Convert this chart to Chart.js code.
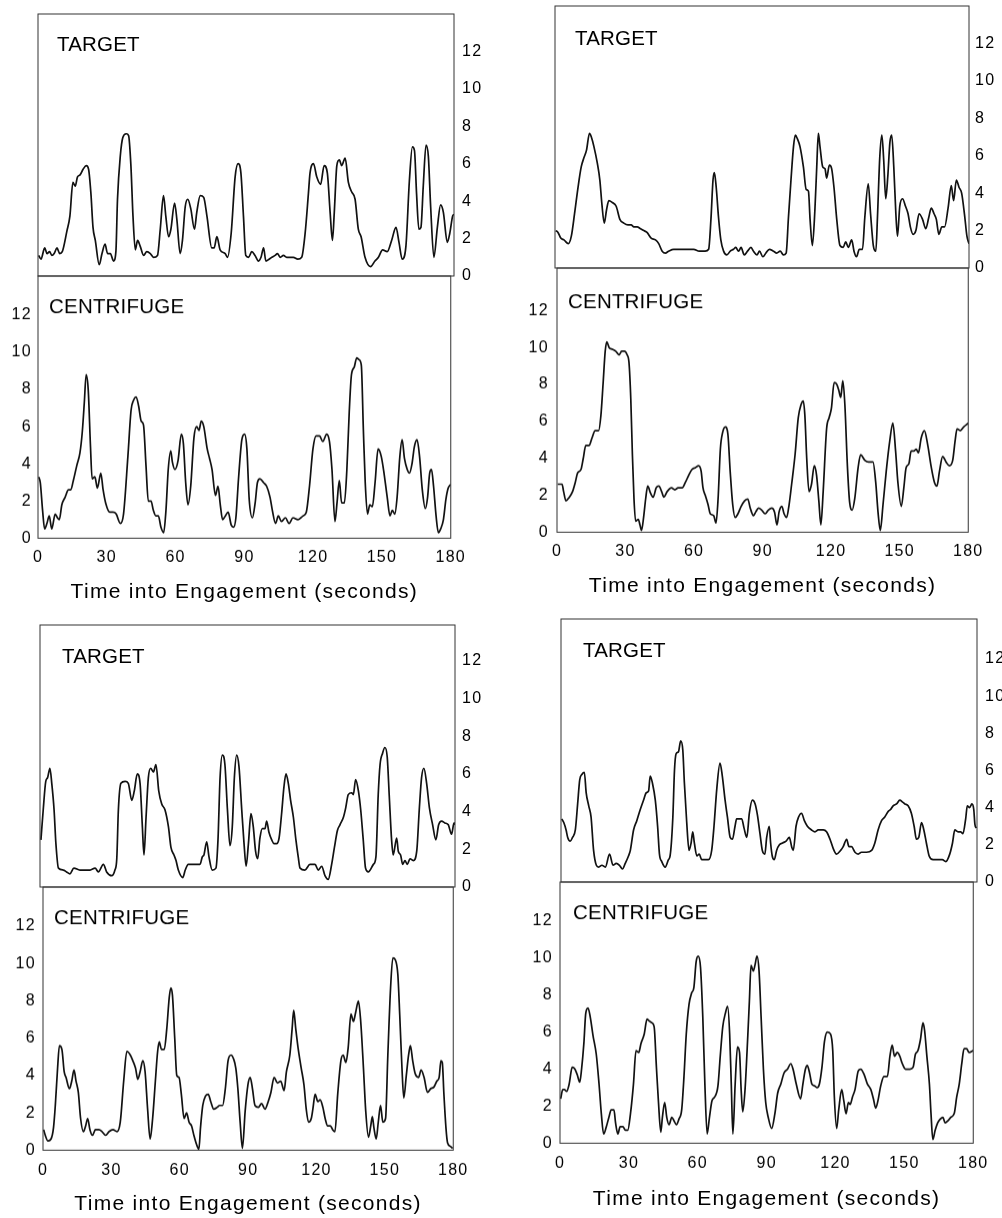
<!DOCTYPE html>
<html>
<head>
<meta charset="utf-8">
<script src="https://cdn.jsdelivr.net/npm/chart.js@4.4.1/dist/chart.umd.min.js"></script>
<style>
  html, body { margin: 0; padding: 0; background: #fff; }
  #page { position: relative; width: 1002px; height: 1218px; overflow: hidden; background: #fff; }
  .box { position: absolute; }
</style>
</head>
<body>
<div id="page"></div>
<script>
// tick labels
const xTicks = [0, 30, 60, 90, 120, 150, 180];
const yTicks = [0, 2, 4, 6, 8, 10, 12];
const xTitle = 'Time into Engagement (seconds)';

// panel 1 (top left)
const p1TargetT = [0.3,1.3,2.9,3.9,5,6,7,8.2,9.4,10.5,12.5,13.8,15.1,16.1,17.1,18.2,19.5,20.9,21.9,22.9,23.8,24.8,26.5,27.7,29,30.1,31.3,32.7,33.7,34.4,35.6,36.7,38.2,39.2,40.2,41.1,42.1,43.1,44.2,45.7,47.1,48.6,50,51.7,52.9,54.3,55.3,56.5,57.5,59.1,60.1,61.5,62.5,63.7,64.8,66.1,67.7,68.7,70.2,71.7,73.1,75.2,76.2,77.4,78.8,81,82,83.6,85.3,86.6,87.8,88.9,89.9,91.1,92.5,93.9,95.4,96.5,97.6,98.6,100,101.2,102.6,103.6,104.8,106.2,107.6,109.1,110.5,112.4,114.1,115.6,117,117.7,119.2,120.6,122.3,123.8,125.2,126.4,127.4,128.2,129.3,130.4,131.4,132.9,134.3,135.7,137.2,138.6,139.8,141.5,143.9,145.8,147.3,149.1,151.1,153,154.9,156.2,157.6,159.2,160.7,162,162.9,163.8,164.8,165.7,166.7,167.9,168.9,169.9,171.3,172.8,174.2,175.4,177.1,178.2,179.4,180];
const p1TargetV = [1.1,0.9,1.5,1.2,1.3,1.1,1.2,1.5,1.2,1.3,2.4,3.2,5.0,4.8,5.3,5.4,5.7,5.9,5.7,4.4,2.6,1.9,0.6,1.2,1.7,1.2,1.2,0.8,1.3,4.1,6.4,7.4,7.6,7.5,5.9,3.2,1.4,1.9,1.6,1.1,1.3,1.2,1.0,1.1,2.5,4.3,3.2,2.1,2.5,3.9,3.0,1.2,1.9,3.7,4.1,3.6,2.5,3.4,4.3,4.2,3.2,1.5,1.5,2.1,1.4,1.2,1.0,2.3,5.3,6.0,5.5,3.2,1.1,1.0,1.3,1.1,0.8,1.0,1.5,0.8,0.9,1.0,1.1,1.2,1.0,1.1,1.0,1.0,1.0,0.9,1.0,2.3,4.4,5.5,6.0,5.3,4.9,5.9,5.5,3.4,1.9,3.4,5.9,6.2,5.9,6.3,5.0,4.5,4.1,2.5,2.1,1.0,0.5,0.8,1.0,1.4,1.3,1.9,2.6,1.8,0.9,1.6,5.1,6.9,6.7,4.4,2.5,2.6,4.8,7.0,6.4,3.7,1.0,2.6,3.8,3.4,1.8,2.3,3.2,3.3];
const p1CentT = [0.3,1,2,2.9,3.9,4.9,6,7.5,8.5,9.3,10.4,11.8,13.3,14.3,15.4,16.9,18.3,19.3,20.2,21,21.9,22.9,23.6,24.8,25.9,27.4,28.4,29.5,31.3,32.7,34.1,35.9,37.3,39.2,40.6,41.6,42.8,43.9,45,46,47.1,48.1,49.3,50.3,51.4,52.5,53.6,54.8,55.8,56.8,57.9,58.6,59.7,61.1,62.5,63.4,64.4,65.4,66.6,68,69.2,70.2,71.2,72.3,73.8,74.8,75.9,77.4,78.5,79.5,80.5,81.7,82.9,84.3,85.3,86.3,87.5,88.9,90.1,91.1,92.1,93.5,94.7,95.7,96.8,98.3,99.7,101.2,102.2,103.6,104.8,106.2,107.9,109.5,111.2,113.4,115.6,117,118.4,119.9,121.3,122.8,124.2,125.9,127.1,128.2,129.5,130.4,131.4,132.4,133.6,134.7,135.7,136.7,137.9,139,140,141,141.9,142.7,143.7,144.7,145.8,147,148.3,149.7,150.9,152.3,153.5,154.5,155.6,156.6,157.8,158.8,159.8,161,162,163.1,164.1,165.3,166.4,167.6,168.9,169.9,170.8,171.6,172.5,173.6,174.6,175.6,176.8,177.9,178.9,180];
const p1CentV = [3.3,3.0,1.5,0.5,0.8,1.2,0.5,1.3,1.1,1.0,1.8,2.2,2.6,2.6,3.1,3.9,4.6,5.7,7.3,8.8,8.0,4.9,3.2,3.3,2.7,3.5,2.6,1.9,1.4,1.4,1.3,0.8,1.3,4.4,6.9,7.4,7.6,7.1,6.3,6.1,3.9,2.0,2.0,1.5,1.2,1.2,0.6,0.3,1.5,3.7,4.7,4.1,3.7,4.2,5.6,5.1,3.0,1.8,2.8,5.4,6.0,5.8,6.3,6.0,4.8,4.3,3.7,2.3,2.8,1.8,1.0,1.2,1.4,0.7,0.6,1.1,3.3,5.3,5.6,4.8,2.1,1.1,1.9,3.0,3.2,3.0,2.8,2.2,1.5,0.8,1.2,0.9,1.1,0.8,1.1,1.0,1.2,1.4,2.8,4.8,5.5,5.5,5.2,5.6,5.2,3.7,0.9,1.9,3.1,1.9,1.9,3.7,6.7,8.8,9.2,9.7,9.6,9.3,5.8,3.0,1.3,1.8,1.7,3.0,4.8,4.4,3.5,2.2,1.2,1.5,1.3,2.2,4.4,5.3,4.3,3.7,3.5,4.0,4.9,5.3,4.4,2.6,1.6,2.2,3.5,3.7,2.8,1.2,0.3,0.5,1.0,2.1,2.7,2.9];

// panel 2 (top right)
const p2TargetT = [0.3,1.3,2.5,3.9,5.8,7.1,8.5,10,11.4,12.6,13.7,15,15.8,16.9,18.4,19.5,20.4,21.4,22.4,23.4,24.9,26.6,28.2,29.9,31.7,33.1,34.3,35.7,37.2,38.6,40,41.8,43.7,45.1,46.6,48,49.4,51.6,54.5,57.4,60.3,62.7,64.2,65.3,66.8,67.8,68.7,69.3,70.1,71.1,72.1,73.3,74.7,76.2,77.6,78.6,79.8,80.9,82.3,83.7,85.2,86.3,87.8,88.9,90.4,91.7,93.2,95,96.4,97.9,99.3,100.5,101.5,102.6,103.7,104.5,105.4,106.5,108,109.2,110.2,110.9,111.9,113,113.8,114.5,115.2,116.4,117.4,118.1,119.3,120.3,121.3,122.5,123.9,125.3,126.4,127.5,129,130,131.1,132.3,133.7,134.7,136.2,137.2,138.4,139.5,140.2,141.2,142.1,142.9,143.8,144.7,145.6,146.4,147.3,148.2,148.9,149.9,151.1,152.4,153.5,154.5,155.7,156.9,158.3,159.8,161.2,162.5,163.6,164.8,165.8,166.9,168.2,169.4,170.9,172.3,173.3,174.5,175.7,176.8,178.1,179.1,180];
const p2TargetV = [2.0,1.9,1.6,1.5,1.3,1.7,2.9,4.3,5.4,5.9,6.3,7.2,7.0,6.5,5.6,4.7,3.4,2.4,3.1,3.6,3.5,3.3,2.6,2.4,2.3,2.3,2.2,2.2,2.1,2.0,1.9,1.6,1.5,1.3,0.9,0.8,0.9,1.0,1.0,1.0,1.0,0.9,0.9,0.9,1.0,2.6,4.7,5.1,4.3,2.7,1.5,0.9,0.7,0.9,1.0,1.1,0.9,1.1,0.7,0.9,1.1,0.9,0.7,0.9,0.6,0.8,1.0,0.9,0.8,0.9,0.7,0.8,2.7,4.7,6.5,7.1,6.9,6.5,5.4,4.2,4.1,2.6,1.2,3.1,5.4,7.2,6.5,5.4,5.3,4.8,5.5,5.3,4.3,2.6,1.2,1.1,1.4,1.1,1.5,0.9,0.6,1.0,1.0,2.7,4.5,2.9,1.2,0.9,2.7,5.9,7.1,5.8,3.7,4.9,6.7,7.1,5.4,2.9,1.7,3.3,3.7,3.3,2.9,2.2,1.8,2.0,2.9,2.6,2.1,2.7,3.2,2.9,2.6,1.8,2.2,2.2,3.2,4.4,3.6,4.7,4.3,4.0,2.8,1.7,1.3];
const p2CentT = [0.3,2.2,2.9,3.9,5.4,6.8,8,9,10.5,11.5,12.6,14.1,15.3,16.7,18.2,19.2,20.2,21.1,21.8,22.8,24.3,25.7,27.2,28.3,29.5,30.7,31.5,32.3,33,33.7,34.4,35.6,36.3,37,37.9,38.8,39.7,41,42.1,43.4,44.6,45.8,46.8,48.2,50.1,51.6,53,54.8,56.2,57.7,59.1,60.6,62,63.1,63.9,64.9,66.1,67.1,68.6,69.6,70.5,71.5,72.5,73.7,74.8,75.8,76.9,78,79.2,80.6,82.1,83.5,84.6,86,87,88.2,89.6,91.1,92.5,94,95.2,96.3,97.2,98.4,99.4,100.5,101.6,102.7,104.2,105.6,106.8,107.8,108.5,109.3,110.3,111.4,112.6,113.6,114.6,115.5,116.5,118,119.1,120.1,121.3,122.5,123.3,124.2,125.1,126,127.1,128.1,129.2,130.3,131.8,132.9,134.7,136.4,138.3,139.5,140.5,141.5,142.7,144.1,145.6,147,148.2,149.2,150.7,151.8,152.8,154,155,156.2,157.2,158.2,159.4,160.8,162.3,163.7,165.2,166.3,167.4,168.8,170.3,171.7,173.2,174.2,175.1,176.5,178,180];
const p2CentV = [2.6,2.6,2.2,1.7,1.9,2.2,2.7,3.2,3.4,4.0,4.7,4.7,5.1,5.5,5.5,6.3,8.1,9.8,10.3,10.0,9.9,9.8,9.6,9.8,9.8,9.6,9.2,7.2,4.2,1.8,0.6,0.7,0.4,0.1,0.8,1.8,2.5,2.1,1.9,2.4,2.5,2.2,1.9,2.2,2.4,2.3,2.4,2.4,2.7,3.1,3.4,3.5,3.6,3.3,2.4,2.0,1.5,1.0,0.9,0.5,1.8,4.5,5.4,5.7,5.3,3.3,1.5,0.8,1.0,1.4,1.7,1.8,1.3,0.9,1.1,1.3,1.2,1.0,1.2,1.3,1.1,0.4,1.1,1.4,1.0,0.8,1.5,2.6,4.2,6.2,6.9,7.1,6.3,4.0,2.2,2.6,3.6,3.1,1.7,0.4,2.2,5.6,6.2,6.7,8.1,8.0,7.7,7.3,8.2,6.9,3.6,1.6,1.2,1.8,3.5,4.2,3.9,3.8,3.8,2.7,1.1,0.1,1.5,3.3,4.9,5.9,4.4,2.7,1.4,2.4,3.5,3.7,4.4,4.4,4.5,4.3,5.1,5.5,4.7,3.6,2.7,2.5,3.3,4.1,3.8,3.6,3.9,4.9,5.6,5.5,5.7,5.9];

// panel 3 (bottom left)
const p3TargetT = [0.4,1.4,2.5,3.3,4.3,5.1,6.1,6.9,8,10.1,11.5,13,14.7,17.3,19.5,21.7,23.9,25.3,27.5,28.9,31.1,32.5,33.3,34,35.1,36.9,38.3,39.8,40.9,42.2,43.4,44.4,45.1,46,47,48,49.2,50.3,51.5,52.8,54.2,55.7,56.8,58.1,59,60,61.9,63,64.3,66.5,68,69.4,70.4,71.1,72.3,73.3,74.7,76.3,77.2,78.1,79.1,80.2,81.3,82.4,83.4,84.3,85.3,86.3,87.5,88.5,89.4,90.4,91.5,92.5,93.5,94.4,95.4,96.4,97.6,98.3,99.3,100.5,101.5,102.6,103.7,104.8,105.8,106.7,107.7,108.7,109.9,111,112,112.8,114.9,117.1,119.3,120.7,122.2,123.6,125,126.5,127.7,129,130.1,131.6,132.6,133.7,135.2,135.9,136.9,138.1,139.1,140.2,141.2,142.4,144.6,145.7,146.7,147.5,148.6,149.6,150.6,151.5,152.5,153.2,154.7,155.4,156.4,157.3,158.3,159.3,160.5,161.9,163.4,164.5,165.5,166.5,167.7,168.9,170.3,171.7,172.9,174.2,175.6,177.1,178.5,179.6,180];
const p3TargetV = [2.5,4.1,5.6,5.8,6.3,5.5,4.1,2.3,1.0,0.9,0.8,0.7,1.0,0.9,0.9,0.9,1.0,0.8,1.2,0.8,0.6,0.9,1.5,4.1,5.5,5.6,5.5,4.6,5.1,6.0,5.5,3.2,1.7,3.7,5.8,6.3,6.1,6.5,5.1,4.4,4.1,3.2,2.1,1.7,1.4,0.9,0.5,0.9,1.2,1.2,1.2,1.2,1.6,1.7,2.4,1.6,0.9,1.0,2.5,5.8,7.0,6.5,4.1,2.2,3.2,5.8,7.0,6.4,4.1,2.3,1.1,2.3,3.9,3.2,1.9,1.5,2.6,3.1,3.1,3.5,2.9,2.5,2.3,2.3,2.6,3.9,5.3,6.0,5.5,4.6,3.7,2.5,1.6,1.0,0.9,1.2,1.2,0.9,1.1,0.6,0.4,1.2,2.1,3.0,3.3,3.7,4.2,4.9,5.0,4.9,5.7,5.1,4.1,2.5,1.0,0.8,1.2,1.6,4.9,6.5,7.1,7.4,6.9,4.8,2.5,1.7,2.6,1.9,1.7,1.2,1.4,1.2,1.5,1.4,1.9,4.1,5.8,6.3,5.5,4.2,3.3,2.5,3.3,3.5,3.4,3.3,2.8,3.4,3.3];
const p3CentT = [0.3,1,2.2,3.5,4.6,5.4,6.4,7.2,8.3,9.3,10.1,11.6,12.6,13.6,14.5,15.5,16.5,17.7,18.7,19.6,20.6,21.7,23,24.5,25.9,27.5,29,30.7,32.5,33.9,35.4,36.8,38.3,39.4,40.6,41.6,42.6,43.8,44.8,45.9,47,48.1,49.3,50.3,51,52,53.2,54.3,55.4,56.1,56.8,57.8,58.7,59.7,60.7,61.9,63,64.1,65.2,66.2,67.4,68.4,69.1,70.1,71.3,72.5,73.6,74.9,76.4,77.5,78.8,80,81.2,82.5,83.6,84.6,85.5,86.5,87.5,88.7,89.9,90.9,91.9,93,94.5,95.9,97.4,98.8,100,101.4,102.9,104.3,105.8,106.8,108.3,109.3,110,110.9,111.9,113.3,114.5,115.5,116.5,117.7,118.4,119.4,120.6,121.6,122.8,123.8,124.9,126.1,127.1,128.1,129.3,130.7,131.7,132.9,133.9,135.1,136.2,137.2,138.4,139.4,140.6,141.6,142.8,143.8,144.5,145.2,146.2,147.1,148.1,149.1,150.3,151.3,152.5,153.5,154.6,155.7,156.5,157.5,158.3,159.4,160.4,161.2,162.2,163.3,164.8,165.9,167.2,168.7,170.1,171.6,172.8,173.8,174.6,175.2,175.9,176.8,177.5,178.8,179.7];
const p3CentV = [1.1,0.8,0.5,0.6,1.2,2.4,4.4,5.6,5.4,4.2,3.9,3.3,3.7,4.3,3.7,3.1,1.7,1.0,1.3,1.7,1.1,0.8,1.1,1.1,1.0,0.8,1.0,1.1,1.0,1.5,3.7,5.3,5.1,4.8,4.4,3.8,4.2,4.8,4.2,2.2,0.6,1.7,3.7,5.3,5.8,5.4,5.4,6.5,8.2,8.7,8.3,6.0,4.0,3.9,3.0,1.7,2.0,1.5,1.3,0.8,0.3,0.05,1.2,2.4,2.9,3.0,2.6,2.2,2.3,2.4,2.4,3.3,4.8,5.1,4.9,4.4,3.3,1.5,0.1,2.1,3.5,3.9,3.3,2.4,2.3,2.5,2.2,2.6,3.1,3.9,3.6,3.7,3.2,4.2,5.1,6.5,7.5,6.5,5.5,4.4,3.5,2.2,1.5,1.7,2.2,3.0,2.6,2.7,2.3,1.7,1.3,1.3,1.1,1.0,3.0,4.8,5.1,4.7,5.5,7.3,6.9,7.4,8.0,6.9,4.4,2.1,0.7,1.3,1.8,1.2,0.6,1.5,2.4,1.5,1.7,5.1,8.7,10.3,10.2,9.4,7.3,4.4,2.8,4.0,5.1,5.6,4.8,4.1,3.9,4.3,3.9,3.1,3.3,3.4,3.7,3.9,4.8,4.7,3.0,1.2,0.4,0.2,0.1];

// panel 4 (bottom right)
const p4TargetT = [0.3,1.2,2.2,2.9,4,5,6.2,7.2,8.1,9.1,10.1,10.9,12,13,14.1,15.3,16.3,17.7,19.2,21,22.5,23.9,25.3,26.6,27.8,29.2,30,31.4,32.8,34.3,35.7,36.9,37.9,38.6,39.6,40.8,41.8,42.6,43.6,45.1,46.5,47.2,48.4,49.1,49.8,50.8,51.8,52.7,53.4,54.4,55.4,56.3,57,57.7,58.8,59.8,60.9,62.4,63.8,65.2,66.2,67.4,68.8,69.8,71,72,73.2,74.2,75.3,76,77.2,78.2,79.2,80.4,81.5,82.8,84,85,86.1,87.1,88.2,89,90.1,90.7,91.4,92.3,93.3,94.5,95.9,97.4,98.8,99.8,100.5,101.7,102.8,104.1,105.3,106.6,108.4,109.9,111.3,113.5,114.9,116.4,117.8,119.2,121,122.1,123.6,124.6,125.7,127.2,128.6,130,132.2,134.4,135.8,137.2,138.7,140.1,141.6,142.6,143.7,145.2,146.6,147.8,148.8,150.2,151.6,152.8,153.8,154.8,156,157,158.1,159.3,161,163.2,165,166.5,168.2,169.4,170.4,171.8,172.9,173.9,175.1,175.8,176.8,177.8,178.6,179.1,179.7];
const p4TargetV = [3.4,3.2,2.8,2.4,2.2,2.4,2.8,4.2,5.5,5.8,5.9,4.8,4.1,3.5,1.7,0.9,0.8,0.9,0.8,1.5,0.9,1.0,0.9,0.7,1.0,1.4,1.7,2.8,3.3,3.9,4.4,4.8,4.9,5.7,5.3,4.4,3.0,1.5,1.1,0.8,1.2,1.4,3.5,6.0,6.9,7.0,7.6,7.1,5.3,3.2,1.7,2.1,2.7,2.1,1.4,1.5,1.2,1.2,1.2,1.7,3.0,5.0,6.4,5.7,4.4,3.5,2.4,2.3,3.0,3.4,3.4,3.4,2.9,2.4,3.7,4.4,4.2,3.6,2.6,1.7,1.5,2.4,3.0,2.1,1.4,1.2,1.7,2.0,2.1,2.2,2.4,1.9,1.7,3.0,3.5,3.7,3.3,3.0,2.8,2.7,2.8,2.8,2.7,2.3,1.8,1.5,1.7,1.9,2.3,1.9,1.9,1.6,1.5,1.6,1.6,1.7,2.1,2.8,3.3,3.5,3.8,3.9,4.1,4.2,4.4,4.3,4.2,4.1,3.7,3.0,2.3,2.4,3.2,2.8,2.1,1.4,1.2,1.2,1.2,1.1,1.5,2.1,2.8,2.7,2.7,2.6,3.4,4.1,4.0,4.2,3.9,3.1,2.9];
const p4CentT = [0.3,1.2,1.9,2.9,4,5.3,6.5,7.5,8.6,9.4,10.4,11.2,12.2,13.2,14.4,15.8,17,18,19,20.2,21.3,22.3,23.5,24.2,25.2,26.2,27.4,28.5,29.5,30.7,32,33.1,34.3,35.3,36.7,37.9,38.9,40,41,42,42.9,43.9,44.6,45.6,46.5,47.5,48.7,49.7,50.7,51.8,53,54,55,56.2,57.3,58.3,59.3,60.2,61.2,62.2,63.1,64.1,65.1,66.2,67.4,68.8,69.8,70.9,72,73,73.9,74.6,75.3,76.3,77.3,78.2,78.9,79.6,80.6,81.8,82.5,83.2,84.2,84.9,85.8,86.7,87.6,88.6,89.6,90.7,92.2,93.6,94.8,96.2,97.6,99.1,100.5,101.5,102.9,104.8,105.8,106.9,107.7,108.7,109.7,110.9,112,113,114.1,115.2,116.4,117.8,118.8,119.5,120.5,121.4,122.7,123.6,124.6,125.6,126.4,127.4,128.5,129.9,131,132.5,133.9,135.4,136.5,137.5,138.5,139.7,141.1,142.6,143.7,144.7,145.7,146.9,148,149.1,150.5,152.4,153.8,154.8,155.9,157,158.1,158.8,159.8,160.9,161.6,162.4,163.4,164.5,165.6,166.8,167.7,168.9,170.2,171.7,172.8,173.9,175,176,177.1,178.2,180];
const p4CentV = [2.4,2.9,2.9,2.8,3.2,4.1,4.0,3.7,3.3,4.0,5.4,7.0,7.3,6.8,5.8,4.8,3.2,1.6,0.5,0.9,1.4,1.8,1.8,1.1,0.5,0.9,0.9,0.7,0.7,1.6,3.2,5.0,4.9,5.4,5.9,6.7,6.6,6.5,6.3,4.1,2.2,0.6,1.4,2.2,1.4,1.0,1.4,1.2,1.0,1.3,1.8,3.6,5.9,7.5,8.1,8.4,9.8,10.1,9.5,6.8,3.2,0.5,1.4,2.3,2.5,3.1,4.7,6.3,7.0,7.4,5.9,3.2,0.5,3.2,5.2,4.9,2.9,1.7,2.9,5.8,7.7,9.6,9.3,9.6,10.1,9.3,6.8,4.0,2.2,1.4,0.8,1.6,2.7,3.2,3.8,4.0,4.3,4.0,3.2,2.4,3.2,4.0,4.2,3.8,3.2,3.1,3.0,3.2,4.1,5.5,6.0,5.9,5.0,2.5,0.8,1.8,2.9,2.3,1.6,2.2,2.1,2.5,2.9,3.9,4.0,3.7,3.2,2.9,2.4,1.9,2.3,3.1,3.6,3.6,4.7,5.3,4.7,4.9,4.7,4.3,4.0,4.0,4.1,4.8,5.0,5.6,6.5,6.1,4.7,3.2,1.6,0.2,0.7,1.1,1.3,1.4,1.1,1.2,1.4,1.6,2.5,3.2,4.3,5.1,5.1,4.9,5.0];

// where each half-panel sits on the page (plot box edges in px)
const panels = [
  { tT: p1TargetT, tV: p1TargetV, cT: p1CentT, cV: p1CentV,
    target: { L: 38, T: 14, R: 454, B: 276, max: 14, pad: 8, dx: 19, dy: 37 },
    cent: { L: 38, T: 276, R: 454, B: 538, max: 14.1, pad: 6, dx: 11, dy: 37, tickPad: 10.5, titleY: 592 } },
  { tT: p2TargetT, tV: p2TargetV, cT: p2CentT, cV: p2CentV,
    target: { L: 555, T: 6, R: 969, B: 268, max: 14, pad: 6, dx: 20, dy: 39 },
    cent: { L: 557, T: 268, R: 971, B: 532, max: 14.3, pad: 8, dx: 11, dy: 40, tickPad: 10, titleY: 586 } },
  { tT: p3TargetT, tV: p3TargetV, cT: p3CentT, cV: p3CentV,
    target: { L: 40, T: 625, R: 455, B: 887, max: 13.9, pad: 7, dx: 22, dy: 38 },
    cent: { L: 43, T: 887, R: 457, B: 1150, max: 14.1, pad: 7, dx: 11, dy: 37, tickPad: 11, titleY: 1204 } },
  { tT: p4TargetT, tV: p4TargetV, cT: p4CentT, cV: p4CentV,
    target: { L: 561, T: 619, R: 977, B: 882, max: 14.15, pad: 8, dx: 22, dy: 38 },
    cent: { L: 560, T: 882, R: 977, B: 1143, max: 14.1, pad: 7, dx: 13, dy: 37, tickPad: 11, titleY: 1199 } }
];

const FONT = '"Liberation Sans", Arial, Helvetica, sans-serif';
const INK = '#000';
const PAD = 20;
const AXW = 45;
const page = document.getElementById('page');

// box round the plot and the TARGET / CENTRIFUGE label inside it
const frame = {
  id: 'frame',
  beforeDraw(chart) {
    chart.ctx.letterSpacing = '1.3px';
  },
  afterDraw(chart, args, opts) {
    const ctx = chart.ctx;
    const a = chart.chartArea;
    ctx.save();
    ctx.strokeStyle = '#333';
    ctx.lineWidth = 1;
    ctx.strokeRect(a.left, a.top, a.right - a.left, a.bottom - a.top);
    ctx.letterSpacing = '0.2px';
    ctx.fillStyle = INK;
    ctx.font = '20.5px ' + FONT;
    ctx.textBaseline = 'alphabetic';
    ctx.fillText(opts.text, a.left + opts.dx, a.top + opts.dy);
    ctx.restore();
  }
};

function addCanvas(left, top, width, height) {
  const div = document.createElement('div');
  div.className = 'box';
  div.style.left = left + 'px';
  div.style.top = top + 'px';
  const c = document.createElement('canvas');
  c.width = width;
  c.height = height;
  c.style.width = width + 'px';
  c.style.height = height + 'px';
  div.appendChild(c);
  page.appendChild(div);
  return c;
}

function lineData(times, vals) {
  return {
    datasets: [{
      data: times.map((t, i) => ({ x: t, y: vals[i] })),
      borderColor: '#111',
      borderWidth: 1.7,
      pointRadius: 0,
      cubicInterpolationMode: 'monotone',
      fill: false
    }]
  };
}

function yAxis(g, position) {
  return {
    position: position,
    min: 0,
    max: g.max,
    afterBuildTicks: s => { s.ticks = yTicks.map(v => ({ value: v })); },
    afterFit: s => { s.width = AXW; },
    grid: { display: false, drawTicks: false },
    border: { display: false },
    ticks: { padding: g.pad, color: INK, font: { family: FONT, size: 16 } }
  };
}

function targetChart(g, times, vals) {
  const c = addCanvas(g.L - PAD, g.T - PAD, (g.R - g.L) + PAD + AXW, (g.B - g.T) + 2 * PAD);
  new Chart(c, {
    type: 'line',
    data: lineData(times, vals),
    options: {
      responsive: false,
      animation: false,
      events: [],
      layout: { padding: { left: PAD, top: PAD, bottom: PAD, right: 0 } },
      plugins: {
        legend: { display: false },
        tooltip: { enabled: false },
        frame: { text: 'TARGET', dx: g.dx, dy: g.dy }
      },
      scales: {
        x: { type: 'linear', display: false, min: 0, max: 180 },
        y: yAxis(g, 'right')
      }
    },
    plugins: [frame]
  });
}

function centChart(g, times, vals) {
  const xh = g.titleY + 12.6 - g.B;
  const c = addCanvas(g.L - AXW, g.T - PAD, AXW + (g.R - g.L) + PAD, PAD + (g.B - g.T) + xh);
  new Chart(c, {
    type: 'line',
    data: lineData(times, vals),
    options: {
      responsive: false,
      animation: false,
      events: [],
      layout: { padding: { left: 0, top: PAD, bottom: 0, right: PAD } },
      plugins: {
        legend: { display: false },
        tooltip: { enabled: false },
        frame: { text: 'CENTRIFUGE', dx: g.dx, dy: g.dy }
      },
      scales: {
        x: {
          type: 'linear',
          min: 0,
          max: 180,
          afterBuildTicks: s => { s.ticks = xTicks.map(v => ({ value: v })); },
          afterFit: s => { s.height = xh; },
          grid: { display: false, drawTicks: false },
          border: { display: false },
          ticks: { padding: g.tickPad - 0.6, maxRotation: 0, autoSkip: false, color: INK, font: { family: FONT, size: 16 } },
          title: { display: true, text: xTitle, color: INK, padding: 0, font: { family: FONT, size: 21 } }
        },
        y: yAxis(g, 'left')
      }
    },
    plugins: [frame]
  });
}

panels.forEach(p => {
  targetChart(p.target, p.tT, p.tV);
  centChart(p.cent, p.cT, p.cV);
});
</script>
</body>
</html>
